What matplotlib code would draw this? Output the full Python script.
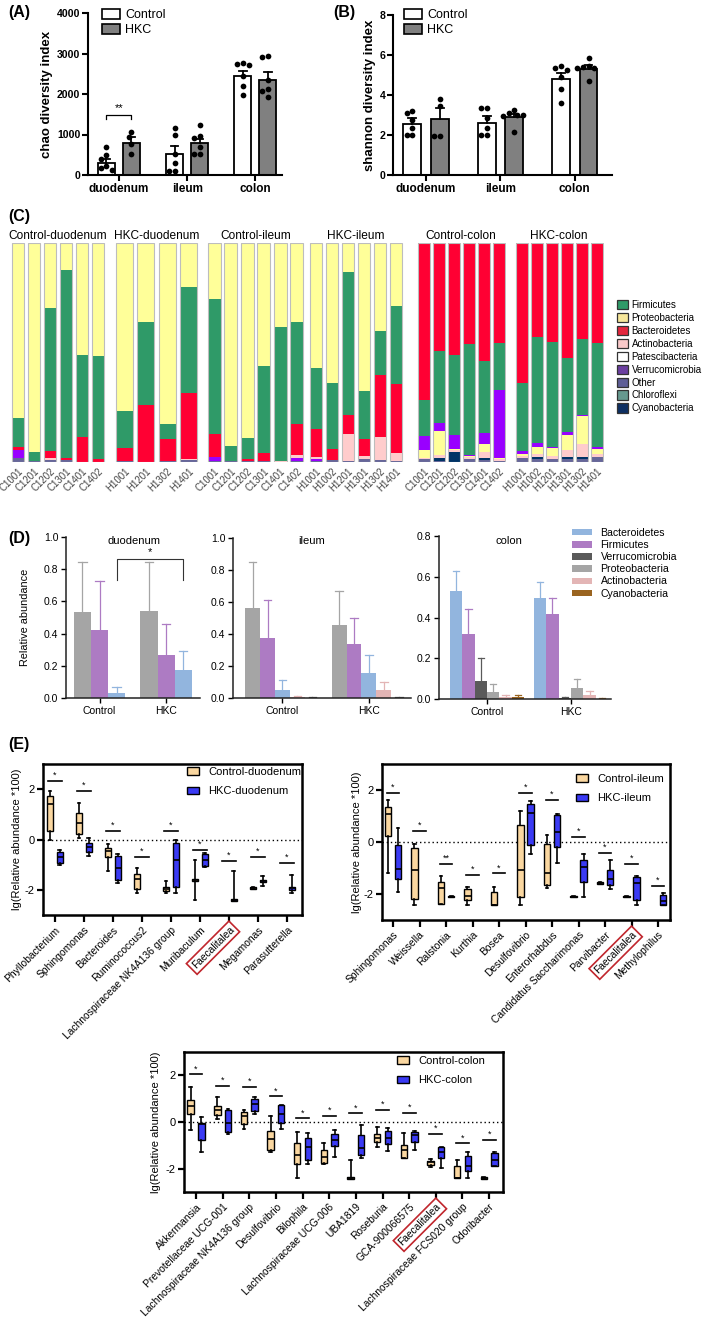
import numpy as np
import matplotlib
matplotlib.use("Agg")
import matplotlib.pyplot as plt
from matplotlib.patches import Patch

plt.rcParams['font.family'] = ['Liberation Sans', 'DejaVu Sans']

# ======================= DATA =======================
regions = ['duodenum', 'ileum', 'colon']
group_names = ['Control', 'HKC']

# (A) chao index
chao_ctrl_pts = [[680, 490, 390, 210, 165, 125],
                 [1170, 990, 510, 290, 107, 107],
                 [2763, 2746, 2722, 2449, 2202, 1963]]
chao_hkc_pts = [[1050, 930, 770, 520],
                [1237, 965, 907, 700, 520, 520],
                [2928, 2911, 2351, 2120, 2062, 1938]]
chao_ctrl_mean = [290, 520, 2440]
chao_ctrl_sem = [100, 200, 140]
chao_hkc_mean = [800, 780, 2350]
chao_hkc_sem = [140, 120, 200]
chao_sig_text = '**'
chao_sig_level = [1480, 1385]

# (B) shannon index
shannon_ctrl_pts = [[3.22, 3.08, 2.75, 2.33, 2.0, 2.0],
                    [3.37, 3.33, 2.83, 2.33, 2.0, 2.0],
                    [5.45, 5.37, 5.25, 4.92, 4.28, 3.62]]
shannon_hkc_pts = [[3.82, 3.45, 1.95, 1.95],
                   [3.25, 3.12, 3.0, 3.0, 2.97, 2.17],
                   [5.87, 5.45, 5.42, 5.37, 5.33, 4.7]]
shannon_ctrl_mean = [2.55, 2.62, 4.8]
shannon_ctrl_sem = [0.28, 0.33, 0.32]
shannon_hkc_mean = [2.78, 2.88, 5.3]
shannon_hkc_sem = [0.55, 0.15, 0.2]

# (C) per-sample phylum composition
c_groups = ['Control-duodenum', 'HKC-duodenum', 'Control-ileum', 'HKC-ileum', 'Control-colon', 'HKC-colon']
c_samples = [['C1001', 'C1201', 'C1202', 'C1301', 'C1401', 'C1402'],
             ['H1001', 'H1201', 'H1302', 'H1401'],
             ['C1001', 'C1201', 'C1202', 'C1301', 'C1401', 'C1402'],
             ['H1001', 'H1002', 'H1201', 'H1301', 'H1302', 'H1401'],
             ['C1001', 'C1201', 'C1202', 'C1301', 'C1401', 'C1402'],
             ['H1001', 'H1002', 'H1201', 'H1301', 'H1302', 'H1401']]
firmicutes = [.133, .043, .655, .858, .374, .467,
              .17, .379, .07, .48,
              .614, .07, .099, .397, .609, .466,
              .281, .301, .652, .22, .202, .356,
              .163, .328, .363, .504, .331, .217,
              .313, .484, .478, .337, .347, .472]
proteobacteria = [.80, .954, .295, .122, .511, .518,
                  .766, .362, .826, .203,
                  .256, .927, .889, .56, .385, .359,
                  .569, .641, .134, .677, .402, .286,
                  .035, .11, .006, .006, .034, .006,
                  .011, .032, .038, .072, .13, .026]
bacteroidetes = [.012, 0, .032, .01, .115, .015,
                 .061, .26, .098, .302,
                 .107, 0, .009, .04, 0, .142,
                 .127, .05, .087, .076, .283, .316,
                 .718, .492, .512, .463, .537, .455,
                 .638, .429, .453, .527, .437, .458]
actinobacteria = [0, 0, .008, 0, 0, 0,
                  0, 0, 0, .006,
                  0, 0, 0, 0, .006, .015,
                  .011, 0, .121, .012, .105, .037,
                  .005, .012, .011, .009, .027, .006,
                  .009, .012, .015, .032, .056, .012]
patescibacteria = [0] * 34
verrucomicrobia = [.038, 0, 0, 0, 0, 0,
                   0, 0, 0, 0,
                   .017, 0, 0, 0, 0, .012,
                   .006, 0, 0, 0, 0, 0,
                   .066, .04, .064, .006, .052, .31,
                   .011, .02, .003, .011, .005, .009]
chloroflexi = [0] * 34
cyanobacteria = [0] * 22 + [0, .012, .044, 0, .012, 0,
                            0, .011, 0, .009, .011, 0]

# (D) relative abundance of main phyla (mean, upper error)
d_titles = ['duodenum', 'ileum', 'colon']
d_phyla_duo = ['Proteobacteria', 'Firmicutes', 'Bacteroidetes']
d_duo_ctrl = [0.535, 0.42, 0.03]
d_duo_ctrl_err = [0.31, 0.305, 0.04]
d_duo_hkc = [0.54, 0.27, 0.175]
d_duo_hkc_err = [0.305, 0.19, 0.12]
d_phyla_ile = ['Proteobacteria', 'Firmicutes', 'Bacteroidetes', 'Actinobacteria', 'Verrucomicrobia']
d_ile_ctrl = [0.565, 0.375, 0.05, 0.005, 0.003]
d_ile_ctrl_err = [0.285, 0.24, 0.06, 0.007, 0.005]
d_ile_hkc = [0.455, 0.335, 0.155, 0.05, 0.003]
d_ile_hkc_err = [0.215, 0.165, 0.115, 0.05, 0.003]
d_phyla_col = ['Bacteroidetes', 'Firmicutes', 'Verrucomicrobia', 'Proteobacteria', 'Actinobacteria', 'Cyanobacteria']
d_col_ctrl = [0.53, 0.32, 0.088, 0.033, 0.008, 0.008]
d_col_ctrl_err = [0.1, 0.12, 0.112, 0.04, 0.012, 0.014]
d_col_hkc = [0.495, 0.415, 0.003, 0.052, 0.02, 0.002]
d_col_hkc_err = [0.08, 0.082, 0.007, 0.045, 0.02, 0.003]
d_sig_level = [0.866, 0.736]

# (E) box plots: (whisker low, q1, median, q3, whisker high)
e_duo_cats = ['Phyllobacterium', 'Sphingomonas', 'Bacteroides', 'Ruminococcus2',
              'Lachnospiraceae NK4A136 group', 'Muribaculum', 'Faecalitalea', 'Megamonas', 'Parasutterella']
e_duo_ctrl = [(0.0, 0.33, 1.4, 1.73, 1.93), (0.05, 0.22, 0.66, 1.05, 1.44),
              (-1.26, -0.70, -0.44, -0.33, -0.17), (-2.13, -1.96, -1.56, -1.36, -1.13),
              (-2.13, -2.03, -1.97, -1.9, -1.63), (-2.42, -1.66, -1.62, -1.56, -0.81),
              None, (-1.98, -1.97, -1.93, -1.9, -1.89), None]
e_duo_hkc = [(-1.03, -0.94, -0.70, -0.48, -0.41), (-0.64, -0.5, -0.28, -0.15, 0.05),
             (-1.74, -1.60, -1.14, -0.66, -0.57), None,
             (-2.13, -1.89, -0.83, -0.15, -0.01), (-1.10, -1.07, -0.81, -0.57, -0.53),
             (-2.45, -2.45, -2.4, -2.36, -1.27), (-1.83, -1.7, -1.65, -1.6, -1.47),
             (-2.13, -2.0, -1.93, -1.89, -1.40)]
e_duo_sig_y = [2.33, 1.93, 0.33, -0.70, 0.33, -0.40, -0.86, -0.70, -0.93]
e_duo_sig = ['*'] * 9

e_ile_cats = ['Sphingomonas', 'Weissella', 'Ralstonia', 'Kurthia', 'Bosea', 'Desulfovibrio',
              'Enterorhabdus', 'Candidatus Saccharimonas', 'Parvibacter', 'Faecalitalea', 'Methylophilus']
e_ile_ctrl = [(-1.18, 0.22, 1.06, 1.36, 1.63), (-2.42, -2.2, -1.06, -0.22, -0.09),
              (-2.38, -2.38, -1.78, -1.53, -1.31), (-2.42, -2.23, -2.08, -1.82, -1.72),
              (-2.42, -2.42, -2.42, -1.91, -1.72), (-2.42, -2.13, -1.06, 0.66, 1.18),
              (-1.75, -1.66, -1.21, -0.09, 0.28), (-2.13, -2.13, -2.1, -2.07, -2.07),
              (-1.6, -1.6, -1.57, -1.54, -1.54), (-2.13, -2.13, -2.1, -2.07, -2.07), None]
e_ile_hkc = [(-1.94, -1.44, -1.04, -0.13, 0.55), None, (-2.13, -2.13, -2.1, -2.07, -2.07),
             None, None, (-0.45, -0.13, 1.11, 1.46, 1.59), (-0.8, -0.19, 0.38, 1.02, 1.08),
             (-2.13, -1.53, -0.96, -0.7, -0.45), (-1.82, -1.66, -1.44, -1.06, -0.7),
             (-2.42, -2.23, -1.57, -1.36, -1.31), (-2.42, -2.42, -2.27, -2.04, -1.95)]
e_ile_sig_y = [1.9, 0.42, -0.83, -1.27, -1.21, 1.88, 1.63, 0.19, -0.42, -0.83, -1.68]
e_ile_sig = ['*', '*', '**', '*', '*', '*', '*', '*', '*', '*', '*']

e_col_cats = ['Akkermansia', 'Prevotellaceae UCG-001', 'Lachnospiraceae NK4A136 group', 'Desulfovibrio',
              'Bilophila', 'Lachnospiraceae UCG-006', 'UBA1819', 'Roseburia', 'GCA-900066575',
              'Faecalitalea', 'Lachnospiraceae FCS020 group', 'Odoribacter']
e_col_ctrl = [(-0.34, 0.36, 0.67, 0.96, 1.5), (0.14, 0.29, 0.5, 0.69, 1.07),
              (-0.31, -0.09, 0.26, 0.43, 0.53), (-1.3, -1.22, -0.74, -0.37, 0.26),
              (-2.4, -1.79, -1.4, -0.91, -0.41), (-1.79, -1.76, -1.5, -1.22, -0.88),
              (-2.43, -2.43, -2.4, -2.37, -1.62), (-1.05, -0.84, -0.7, -0.52, -0.23),
              (-1.55, -1.55, -1.19, -0.98, -0.48), (-1.93, -1.86, -1.73, -1.66, -1.59),
              (-2.4, -2.4, -2.4, -1.87, -1.62), (-2.43, -2.43, -2.4, -2.37, -2.37)]
e_col_hkc = [(-1.29, -0.79, -0.09, -0.03, 0.21), (-0.52, -0.41, -0.03, 0.5, 0.57),
             (0.33, 0.47, 0.76, 1.0, 1.07), (-0.31, -0.03, 0.34, 0.72, 0.74),
             (-1.79, -1.62, -1.09, -0.67, -0.48), (-1.5, -1.02, -0.79, -0.51, -0.34),
             (-1.55, -1.4, -1.12, -0.55, -0.13), (-1.26, -0.95, -0.67, -0.37, -0.27),
             (-1.19, -0.84, -0.55, -0.44, -0.37), (-1.97, -1.55, -1.3, -1.09, -1.05),
             (-2.4, -2.12, -1.9, -1.45, -1.3), (-1.9, -1.9, -1.62, -1.33, -1.3)]
e_col_sig_y = [2.04, 1.54, 1.5, 1.1, 0.16, 0.26, 0.37, 0.51, 0.4, -0.52, -0.91, -0.77]
e_col_sig = ['*'] * 12

# ======================= STYLE / LAYOUT =======================
W, H = 709, 1321
fig = plt.figure(figsize=(W / 100, H / 100), dpi=100)


def ax_px(l, t, r, b):
    return fig.add_axes([l / W, 1 - b / H, (r - l) / W, (b - t) / H])


def fx(x):
    return x / W


def fy(y):
    return 1 - y / H


# panel letters
for lab, x, y in [('(A)', 8, 13), ('(B)', 333, 13), ('(C)', 8, 217), ('(D)', 8, 539), ('(E)', 8, 745)]:
    fig.text(fx(x), fy(y), lab, fontsize=11.5, fontweight='bold', va='center', ha='left')


# ---------------- A & B ----------------
def swarm_offsets(vals, px_per_unit_y, diam):
    vals = np.asarray(vals, float)
    order = np.argsort(-vals)
    placed = []
    offs = np.zeros(len(vals))
    cands = [0]
    for k in range(1, 8):
        cands += [-k * diam * 0.5, k * diam * 0.5]
    for i in order:
        y = vals[i] * px_per_unit_y
        for c in cands:
            if all((c - px) ** 2 + (y - py) ** 2 >= (diam * 0.95) ** 2 for px, py in placed):
                offs[i] = c
                placed.append((c, y))
                break
    return offs


def diversity(rect, ylim, yticks, xlim, off, width, ctrl_pts, hkc_pts, cm, cs, hm, hs, ylabel, ylab_x, legend_xy):
    l, t, r, b = rect
    ax = ax_px(l, t, r, b)
    ax.set_xlim(*xlim)
    ax.set_ylim(*ylim)
    ypx = (b - t) / (ylim[1] - ylim[0])
    xpx = (r - l) / (xlim[1] - xlim[0])
    centers = np.arange(1, len(regions) + 1)
    for pts, mean, sem, sign, fc in [(ctrl_pts, cm, cs, -1, 'white'), (hkc_pts, hm, hs, 1, '#808080')]:
        xs = centers + sign * off
        ax.bar(xs, mean, width=width, color=fc, edgecolor='black', linewidth=1.3, zorder=2)
        for x, m, s in zip(xs, mean, sem):
            ax.plot([x, x], [m, m + s], color='black', lw=1.3, zorder=3)
            ax.plot([x - width * 0.22, x + width * 0.22], [m + s, m + s], color='black', lw=1.3, zorder=3)
        for x, p in zip(xs, pts):
            o = swarm_offsets(p, ypx, 5.6) / xpx
            ax.scatter(x + o, p, s=17, color='black', zorder=4, linewidths=0)
    for sp in ['top', 'right']:
        ax.spines[sp].set_visible(False)
    for sp in ['left', 'bottom']:
        ax.spines[sp].set_linewidth(1.5)
    ax.set_yticks(yticks)
    ax.set_yticklabels([str(v) for v in yticks], fontweight='bold', fontsize=7.6)
    ax.set_xticks(centers)
    ax.set_xticklabels(regions, fontweight='bold', fontsize=8.5)
    ax.tick_params(axis='both', width=1.5, length=4, pad=1.5)
    fig.text(fx(ylab_x), fy((t + b) / 2), ylabel, rotation=90, fontsize=9.5, fontweight='bold',
             ha='center', va='center')
    handles = [Patch(facecolor='white', edgecolor='black', linewidth=1.2),
               Patch(facecolor='#808080', edgecolor='black', linewidth=1.2)]
    fig.legend(handles, group_names, loc='upper left', bbox_to_anchor=(fx(legend_xy[0]), fy(legend_xy[1])),
               frameon=False, fontsize=9, handlelength=1.4, handleheight=0.8, handletextpad=0.45,
               labelspacing=0.25, borderpad=0, borderaxespad=0)
    return ax


axA = diversity((88, 13, 282, 175), (0, 4000), [0, 1000, 2000, 3000, 4000], (0.546, 3.39), 0.183, 0.25,
                chao_ctrl_pts, chao_hkc_pts, chao_ctrl_mean, chao_ctrl_sem, chao_hkc_mean, chao_hkc_sem,
                'chao diversity index', 47, (102, 9))
xl, xr = 1 - 0.183, 1 + 0.183
axA.plot([xl, xl, xr, xr], [chao_sig_level[1], chao_sig_level[0], chao_sig_level[0], chao_sig_level[1]],
         color='black', lw=0.9)
axA.text(1, chao_sig_level[0] + 40, chao_sig_text, ha='center', va='bottom', fontsize=8)

axB = diversity((393, 15, 612, 175), (0, 8), [0, 2, 4, 6, 8], (0.557, 3.5), 0.185, 0.24,
                shannon_ctrl_pts, shannon_hkc_pts, shannon_ctrl_mean, shannon_ctrl_sem,
                shannon_hkc_mean, shannon_hkc_sem, 'shannon diversity index', 370, (404, 9))

# ---------------- C ----------------
phyla_c = ['Firmicutes', 'Proteobacteria', 'Bacteroidetes', 'Actinobacteria', 'Patescibacteria',
           'Verrucomicrobia', 'Other', 'Chloroflexi', 'Cyanobacteria']
colors_c = {'Firmicutes': '#2F9A68', 'Proteobacteria': '#FFFF99', 'Bacteroidetes': '#FF0033',
            'Actinobacteria': '#FFCCCC', 'Patescibacteria': '#FFFFFF', 'Verrucomicrobia': '#9900FF',
            'Other': '#666699', 'Chloroflexi': '#669999', 'Cyanobacteria': '#003366'}
legend_colors_c = {'Firmicutes': '#2F9A68', 'Proteobacteria': '#F7E79B', 'Bacteroidetes': '#E3263D',
                   'Actinobacteria': '#F9C9C9', 'Patescibacteria': '#FFFFFF', 'Verrucomicrobia': '#6B3FA0',
                   'Other': '#5E5E96', 'Chloroflexi': '#66998F', 'Cyanobacteria': '#0D2F62'}
known = {'Firmicutes': firmicutes, 'Proteobacteria': proteobacteria, 'Bacteroidetes': bacteroidetes,
         'Actinobacteria': actinobacteria, 'Patescibacteria': patescibacteria,
         'Verrucomicrobia': verrucomicrobia, 'Chloroflexi': chloroflexi, 'Cyanobacteria': cyanobacteria}
comp = {k: np.array(v, float) for k, v in known.items()}
tot = sum(comp.values())
comp['Other'] = np.clip(1 - tot, 0, None)
tot = tot + comp['Other']
comp = {k: v / tot for k, v in comp.items()}

order_small = ['Other', 'Cyanobacteria', 'Chloroflexi', 'Verrucomicrobia', 'Patescibacteria',
               'Actinobacteria', 'Bacteroidetes', 'Firmicutes', 'Proteobacteria']
order_colon = ['Other', 'Cyanobacteria', 'Chloroflexi', 'Actinobacteria', 'Patescibacteria',
               'Proteobacteria', 'Verrucomicrobia', 'Firmicutes', 'Bacteroidetes']
c_rects = [(10, 106), (114, 199), (206, 305), (308, 404), (416, 506), (514, 604)]
start = 0
for gi, (gname, samples, (l, r)) in enumerate(zip(c_groups, c_samples, c_rects)):
    n = len(samples)
    idx = np.arange(start, start + n)
    start += n
    ax = ax_px(l, 243, r, 462)
    order = order_colon if 'colon' in gname else order_small
    bottom = np.zeros(n)
    x = np.arange(n)
    for ph in order:
        v = comp[ph][idx]
        ax.bar(x, v, bottom=bottom, width=0.8, color=colors_c[ph], edgecolor='none', zorder=2)
        bottom += v
    ax.bar(x, np.ones(n), width=0.8, color='none', edgecolor='#BDBDBD', linewidth=0.8, zorder=3)
    ax.set_xlim(-0.5, n - 0.5)
    ax.set_ylim(0, 1.0)
    for sp in ax.spines.values():
        sp.set_visible(False)
    ax.set_yticks([])
    ax.set_xticks(x)
    ax.set_xticklabels(samples, rotation=45, ha='right', rotation_mode='anchor', fontsize=7, color='#444444')
    ax.tick_params(axis='x', length=0, pad=3)
    ax.set_title(gname, fontsize=8.6, pad=3)

fig.legend([Patch(facecolor=legend_colors_c[p], edgecolor='#333333', linewidth=0.9) for p in phyla_c], phyla_c,
           loc='upper left', bbox_to_anchor=(fx(617), fy(300)), frameon=False, fontsize=7,
           handlelength=1.1, handleheight=1.1, handletextpad=0.4, labelspacing=0.3,
           borderpad=0, borderaxespad=0)

# ---------------- D ----------------
d_colors = {'Bacteroidetes': '#92B5DE', 'Firmicutes': '#AD7BC3', 'Verrucomicrobia': '#5A5A5A',
            'Proteobacteria': '#A5A5A5', 'Actinobacteria': '#E3B5B5', 'Cyanobacteria': '#9A6420'}
d_legend = ['Bacteroidetes', 'Firmicutes', 'Verrucomicrobia', 'Proteobacteria', 'Actinobacteria', 'Cyanobacteria']


def d_panel(rect, ylim, yticks, xlim, w, phyla, ctrl, ctrl_err, hkc, hkc_err):
    l, t, r, b = rect
    ax = ax_px(l, t, r, b)
    n = len(phyla)
    for gi, (m, e) in enumerate([(ctrl, ctrl_err), (hkc, hkc_err)]):
        for k, ph in enumerate(phyla):
            x = gi + (k - (n - 1) / 2) * w
            ax.bar(x, m[k], width=w, color=d_colors[ph], edgecolor='none', zorder=2)
            ax.plot([x, x], [m[k], m[k] + e[k]], color=d_colors[ph], lw=0.9, zorder=1)
            ax.plot([x - w * 0.25, x + w * 0.25], [m[k] + e[k]] * 2, color=d_colors[ph], lw=0.9, zorder=1)
    ax.set_xlim(*xlim)
    ax.set_ylim(*ylim)
    for sp in ['top', 'right']:
        ax.spines[sp].set_visible(False)
    for sp in ['left', 'bottom']:
        ax.spines[sp].set_linewidth(1.1)
        ax.spines[sp].set_color('#222222')
    ax.set_yticks(yticks)
    ax.set_yticklabels(['%.1f' % v for v in yticks], fontsize=7.5)
    ax.set_xticks([0, 1])
    ax.set_xticklabels(group_names, fontsize=7.5)
    ax.tick_params(axis='both', length=3.5, width=1, pad=2)
    return ax


axD1 = d_panel((66, 537, 200, 698), (0, 1.0), [0, .2, .4, .6, .8, 1.0], (-0.504, 1.511), 0.256,
               d_phyla_duo, d_duo_ctrl, d_duo_ctrl_err, d_duo_hkc, d_duo_hkc_err)
xa = 0 + 0.256
xb = 1 + 0.256
axD1.plot([xa, xa, xb, xb], [d_sig_level[1], d_sig_level[0], d_sig_level[0], d_sig_level[1]], color='#333333', lw=0.8)
axD1.text((xa + xb) / 2, d_sig_level[0] + 0.01, '*', ha='center', va='bottom', fontsize=8)
axD2 = d_panel((233, 538, 411, 698), (0, 1.0), [0, .2, .4, .6, .8, 1.0], (-0.572, 1.486), 0.173,
               d_phyla_ile, d_ile_ctrl, d_ile_ctrl_err, d_ile_hkc, d_ile_hkc_err)
axD3 = d_panel((439, 536, 611, 699), (0, 0.8), [0, .2, .4, .6, .8], (-0.571, 1.476), 0.147,
               d_phyla_col, d_col_ctrl, d_col_ctrl_err, d_col_hkc, d_col_hkc_err)
for txt, x in zip(d_titles, [134, 312, 509]):
    fig.text(fx(x), fy(541), txt, fontsize=8, ha='center', va='center')
fig.text(fx(25), fy(617), 'Relative abundance', rotation=90, fontsize=7.8, ha='center', va='center')
fig.legend([Patch(facecolor=d_colors[p], edgecolor='none') for p in d_legend], d_legend,
           loc='upper left', bbox_to_anchor=(fx(572), fy(528)), frameon=False, fontsize=7.6,
           handlelength=1.9, handleheight=0.55, handletextpad=0.8, labelspacing=0.2,
           borderpad=0, borderaxespad=0)

# ---------------- E ----------------
TAN = '#FAD7A0'
BLUE = '#3A3AF4'


def e_panel(rect, xlim, off, width, cats, ctrl, hkc, sig_y, sig_txt, names, leg_xy, ylab_x):
    l, t, r, b = rect
    ax = ax_px(l, t, r, b)
    pos = np.arange(len(cats))
    for stats, sign, col in [(ctrl, -1, TAN), (hkc, 1, BLUE)]:
        bs, ps = [], []
        for i, s in enumerate(stats):
            if s is None:
                continue
            lo, q1, med, q3, hi = s
            bs.append(dict(whislo=lo, q1=q1, med=med, q3=q3, whishi=hi, fliers=[]))
            ps.append(pos[i] + sign * off)
        ax.bxp(bs, positions=ps, widths=width, patch_artist=True, showfliers=False,
               capwidths=width * 0.45, manage_ticks=False,
               boxprops=dict(facecolor=col, edgecolor='black', linewidth=1.0),
               medianprops=dict(color='black', linewidth=1.2),
               whiskerprops=dict(color='black', linewidth=1.2),
               capprops=dict(color='black', linewidth=1.2))
    for p, y, s in zip(pos, sig_y, sig_txt):
        ax.plot([p - 0.24, p + 0.24], [y, y], color='black', lw=1.2)
        ax.text(p, y + 0.04, s, ha='center', va='bottom', fontsize=6.5)
    ax.axhline(0, color='black', lw=1.0, ls=(0, (1, 2)), zorder=0)
    ax.set_xlim(*xlim)
    ax.set_ylim(-3, 3)
    for sp in ax.spines.values():
        sp.set_linewidth(1.8)
    ax.set_yticks([-2, 0, 2])
    ax.set_yticklabels(['-2', '0', '2'], fontsize=8)
    ax.set_xticks(pos)
    ax.set_xticklabels(cats, rotation=45, ha='right', rotation_mode='anchor', fontsize=7.4)
    ax.tick_params(axis='x', length=5, width=1.6, pad=2)
    ax.tick_params(axis='y', length=4, width=1.6, pad=2)
    for tl in ax.get_xticklabels():
        if tl.get_text() == 'Faecalitalea':
            tl.set_bbox(dict(boxstyle='square,pad=0.25', facecolor='none', edgecolor='#C0262D', linewidth=1.2))
    fig.text(fx(ylab_x), fy((t + b) / 2), 'lg(Relative abundance *100)', rotation=90, fontsize=8,
             ha='center', va='center')
    fig.legend([Patch(facecolor=TAN, edgecolor='black', linewidth=1.0),
                Patch(facecolor=BLUE, edgecolor='black', linewidth=1.0)], names,
               loc='upper left', bbox_to_anchor=(fx(leg_xy[0]), fy(leg_xy[1])), frameon=False, fontsize=8,
               handlelength=1.1, handleheight=0.7, handletextpad=0.8, labelspacing=0.85,
               borderpad=0, borderaxespad=0)
    return ax


e_panel((43, 764, 302, 915), (-0.41, 8.52), 0.17, 0.22, e_duo_cats, e_duo_ctrl, e_duo_hkc,
        e_duo_sig_y, e_duo_sig, ['Control-duodenum', 'HKC-duodenum'], (187, 767), 17)
e_panel((382, 764, 670, 920), (-0.415, 10.45), 0.19, 0.245, e_ile_cats, e_ile_ctrl, e_ile_hkc,
        e_ile_sig_y, e_ile_sig, ['Control-ileum', 'HKC-ileum'], (576, 774), 357)
e_panel((184, 1052, 503, 1192), (-0.45, 11.52), 0.2, 0.24, e_col_cats, e_col_ctrl, e_col_hkc,
        e_col_sig_y, e_col_sig, ['Control-colon', 'HKC-colon'], (397, 1056), 156)

fig.savefig('out.png', dpi=100)
